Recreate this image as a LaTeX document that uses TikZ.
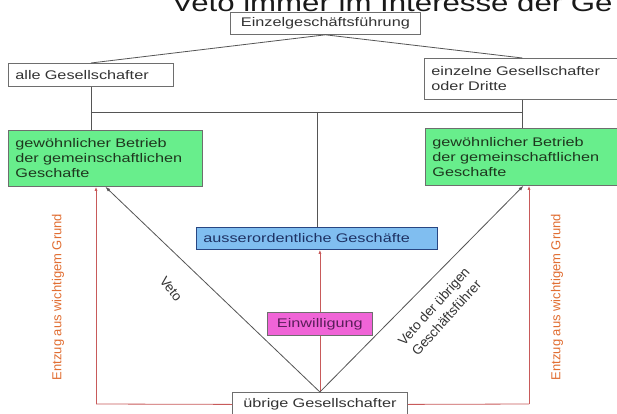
\documentclass[tikz,border=0pt]{standalone}
\usepackage{fontspec}
\setmainfont{Liberation Sans}[FakeStretch=1.3]
\newfontfamily\plainfont{Liberation Sans}
\usetikzlibrary{arrows.meta}
\definecolor{linegray}{RGB}{85,85,85}
\definecolor{bordergray}{RGB}{110,110,110}
\definecolor{boxgreen}{RGB}{104,238,140}
\definecolor{greentext}{RGB}{30,55,30}
\definecolor{boxblue}{RGB}{128,190,240}
\definecolor{blueborder}{RGB}{40,70,130}
\definecolor{bluetext}{RGB}{30,50,100}
\definecolor{boxpink}{RGB}{240,100,215}
\definecolor{pinktext}{RGB}{90,30,90}
\definecolor{redline}{RGB}{200,90,90}
\definecolor{orangetext}{RGB}{225,110,50}
\tikzset{
  bx/.style={draw=bordergray, line width=0.8pt, inner xsep=7pt, inner ysep=0pt,
    align=left, anchor=north west, text=black!80, font=\fontsize{12.5}{15}\selectfont},
  ln/.style={draw=linegray, line width=0.8pt},
  blackarrow/.style={ln, -{Latex[length=5pt,width=3.5pt]}},
  redarrow/.style={draw=redline, line width=0.8pt, -{Latex[length=4pt,width=3pt]}},
  redln/.style={draw=redline, line width=0.8pt},
  lbl/.style={inner sep=0pt, text=black!80, font=\plainfont\fontsize{13.5}{17}\selectfont},
  entzug/.style={inner sep=0pt, text=orangetext, font=\plainfont\fontsize{13}{15}\selectfont}
}
\begin{document}
\begin{tikzpicture}[x=1pt,y=-1pt]
\clip (0,0) rectangle (617,414);
\fill[white] (0,0) rectangle (617,414);
% title (cut off at the top)
\node[anchor=base west, inner sep=0pt, text=black!90, font=\fontsize{24}{24}\selectfont] (title) at (172,12) {Veto immer im Interesse der Ge};
% boxes
\node[bx, text width=176pt, minimum height=22pt, align=center] (ein) at (230,12) {Einzelgeschäftsführung};
\node[bx, text width=151pt, minimum height=23pt] (alle) at (8,63) {alle Gesellschafter};
\node[bx, text width=182pt, minimum height=41pt] (einz) at (424,58) {einzelne Gesellschafter\\oder Dritte};
\node[bx, fill=boxgreen, text=greentext, text width=180pt, minimum height=56pt] (gl) at (8,130) {gewöhnlicher Betrieb\\der gemeinschaftlichen\\Geschafte};
\node[bx, fill=boxgreen, text=greentext, text width=182pt, minimum height=57pt] (gr) at (425,128) {gewöhnlicher Betrieb\\der gemeinschaftlichen\\Geschafte};
\node[bx, fill=boxblue, draw=blueborder, text=bluetext, text width=227pt, minimum height=22pt] (ao) at (196,227) {ausserordentliche Geschäfte};
\node[bx, text width=161pt, minimum height=24pt, align=center] (ub) at (232,392) {übrige Gesellschafter};
% tree lines
\draw[ln] (ein.south) -- (alle.north);
\draw[ln] (ein.south) -- (einz.north);
\coordinate (hl) at (alle.south |- 0,112);
\coordinate (hr) at (einz.south |- hl);
\coordinate (hm) at (ao.north |- hl);
\draw[ln] (alle.south) -- (alle.south |- gl.north);
\draw[ln] (einz.south) -- (einz.south |- gr.north);
\draw[ln] (hl) -- (hr);
\draw[ln] (hm) -- (ao.north);
% red connectors
\coordinate (rl) at (96,404);
\coordinate (rr) at (529,404);
\draw[redln] (ub.west) -- (rl);
\draw[redarrow] (rl) -- (rl |- gl.south);
\draw[redln] (ub.east) -- (rr);
\draw[redarrow] (rr) -- (rr |- gr.south);
\draw[redarrow] (ub.north) -- (ub.north |- ao.south);
% black veto arrows
\draw[blackarrow] (ub.north) -- (gl.south);
\draw[blackarrow] (ub.north) -- (gr.south);
% Einwilligung on top of the red line
\node[bx, fill=boxpink, text=pinktext, text width=91pt, minimum height=23pt, align=center] (ew) at (267,312) {Einwilligung};
% labels
\node[lbl, rotate=-52] (veto) at (171,289) {Veto};
\node[lbl, rotate=48, align=center] (veto2) at (440,312) {Veto der übrigen\\Geschäftsführer};
\node[entzug, rotate=90] (entl) at (58,297) {Entzug aus wichtigem Grund};
\node[entzug, rotate=90] (entr) at (557,297) {Entzug aus wichtigem Grund};
\end{tikzpicture}
\end{document}
